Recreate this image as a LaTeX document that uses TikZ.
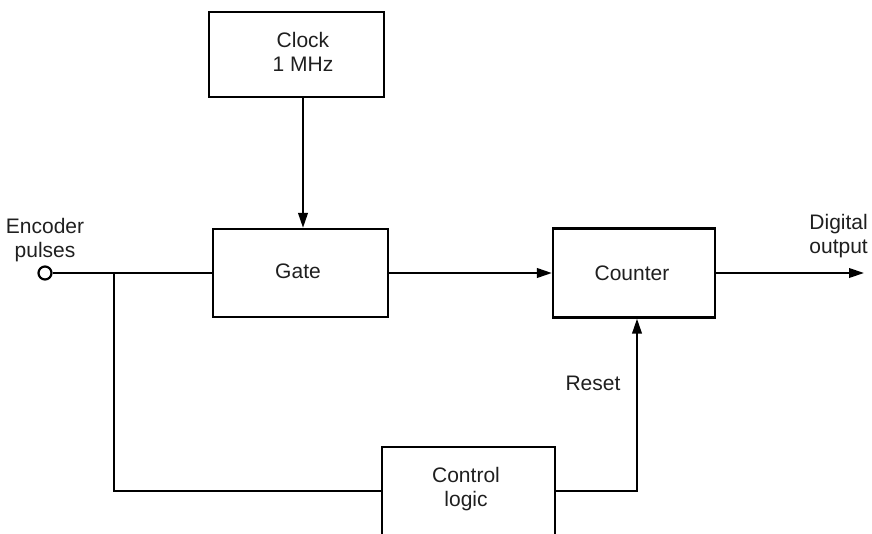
\documentclass[tikz,border=0pt]{standalone}
\usepackage{fontspec}
\setmainfont{Liberation Sans}
\usetikzlibrary{arrows.meta}
\begin{document}
\begin{tikzpicture}[x=1pt,y=-1pt,
  lbl/.style={font=\fontsize{21}{23.5}\selectfont, align=center, inner sep=0pt, text=black!88},
  blk/.style={draw, line width=2.2pt, minimum width=#1, inner sep=0pt},
  wire/.style={line width=2.2pt},
  arr/.style={line width=2.2pt, -{Triangle[length=15pt,width=9.5pt]}}]
\useasboundingbox (0,0) rectangle (872,533);
% blocks
\node[blk=175pt, minimum height=85pt] (clk) at (296.5,54.5) {};
\node[lbl] (clkt) at (303,52) {Clock\\1 MHz};
\node[blk=175pt, minimum height=88pt] (gate) at (300.5,273) {};
\node[lbl] (gatet) at (298,271) {Gate};
\node[blk=162pt, minimum height=89pt] (cnt) at (634,273) {};
\node[lbl] (cntt) at (632,273) {Counter};
\node[minimum width=173pt, minimum height=88pt, inner sep=0pt] (ctrl) at (468.5,491) {};
\draw[wire] (ctrl.south west) -- (ctrl.north west) -- (ctrl.north east) -- (ctrl.south east);
\node[lbl] (ctrlt) at (466,489) {Control\\logic};
% input
\node[circle, draw, line width=2.2pt, minimum size=13pt, inner sep=0pt, fill=white] (in) at (45,273) {};
\node[lbl] (inl) at (45,240) {Encoder\\pulses};
\coordinate (j) at (114,273);
\draw[wire] (in) -- (gate.west);
\draw[wire] (j) |- (ctrl.west);
% clock to gate
\draw[arr] ([xshift=6.5pt]clk.south) -- ([xshift=6.5pt]clk.south |- gate.north);
% gate to counter
\draw[arr] (gate.east) -- (cnt.west);
% output
\coordinate (out) at (864,273);
\draw[arr] (cnt.east) -- (out);
\node[lbl, anchor=east, align=right] (outl) at (868,236) {Digital\\output};
% reset
\draw[arr] (ctrl.east) -| ([xshift=3pt]cnt.south);
\node[lbl] (rst) at (593,383) {Reset};
\end{tikzpicture}
\end{document}
